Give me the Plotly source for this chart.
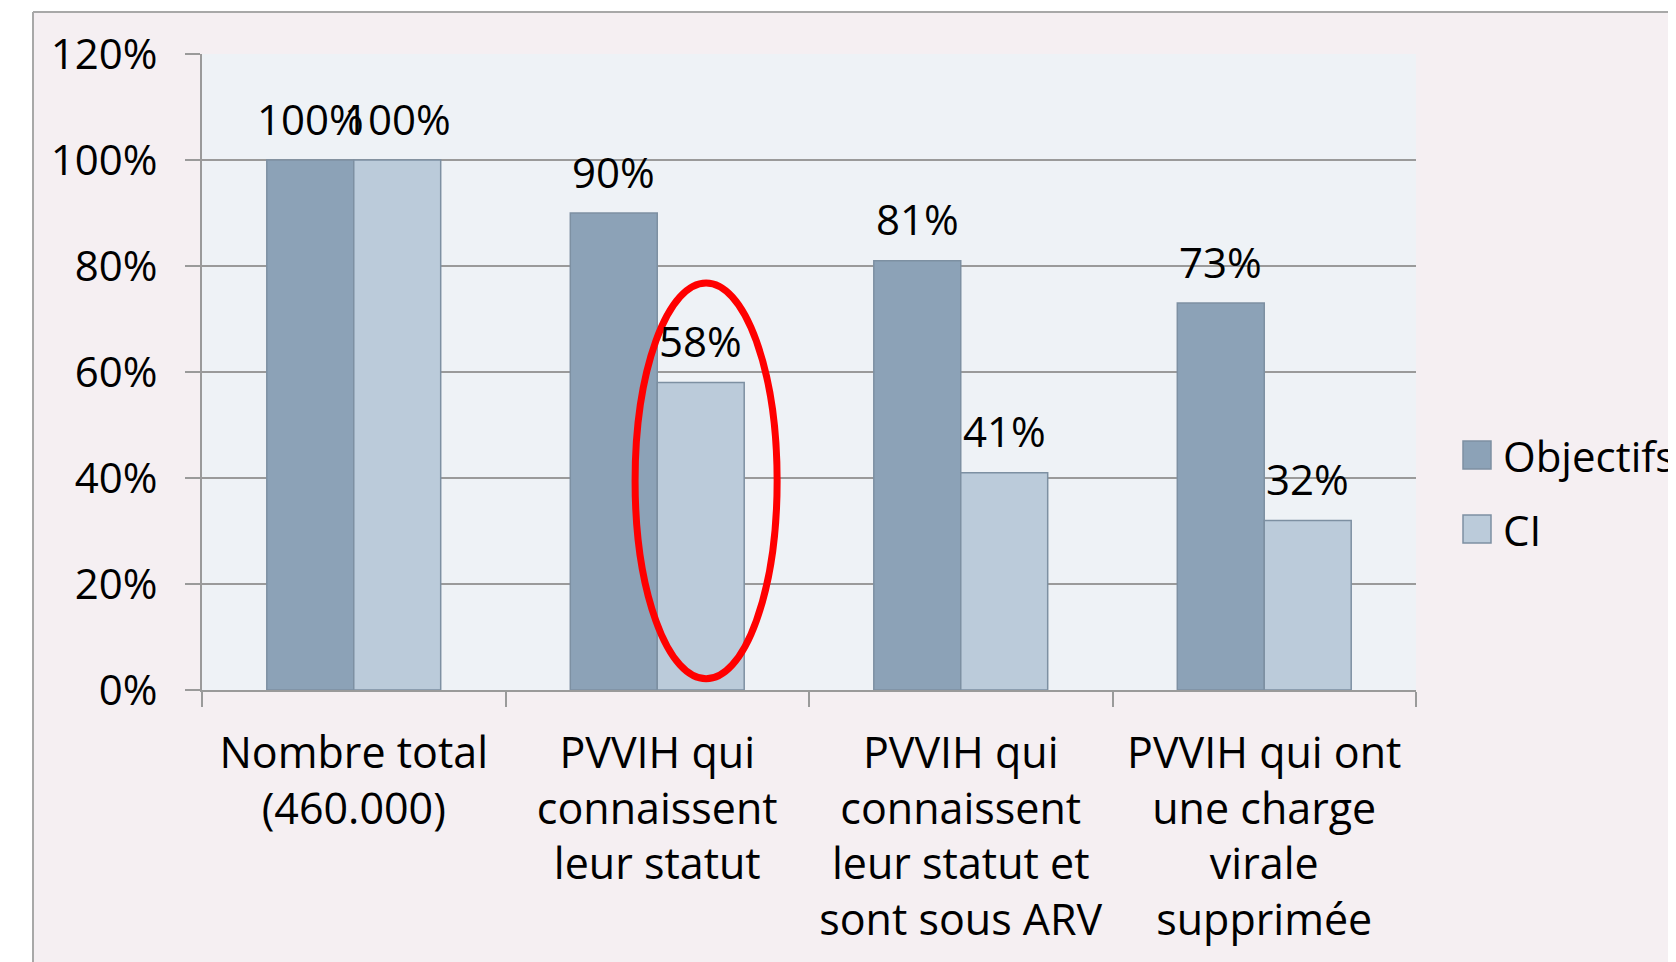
import plotly.graph_objects as go

categories = [
    "Nombre total<br>(460.000)",
    "PVVIH qui<br>connaissent<br>leur statut",
    "PVVIH qui<br>connaissent<br>leur statut et<br>sont sous ARV",
    "PVVIH qui ont<br>une charge<br>virale<br>supprimée",
]
series_names = ["Objectifs", "CI"]
objectifs = [100, 90, 81, 73]
ci = [100, 58, 41, 32]
y_ticks = [0, 20, 40, 60, 80, 100, 120]

W, H = 1676, 962
OFF = 8  # page body margin
ML, MR, MT, MB = 194, 268, 46, 280
PW, PH = W - ML - MR, H - MT - MB
FONT = "Open Sans"
FS = 42
FSX = 43
BARGAP = 0.427
DARK = "#8CA2B7"
LIGHT = "#BBCBDA"
EDGE = "#7D90A2"
GRID = "#9A9A9A"
PINK = "#F5EFF2"
PLOTBG = "#EEF2F6"


def px_x(p):
    return (p - OFF - ML) / PW


def px_y(p):
    return 1 - (p - OFF - MT) / PH


fig = go.Figure()
for name, vals, col in [(series_names[0], objectifs, DARK), (series_names[1], ci, LIGHT)]:
    fig.add_trace(go.Bar(
        x=categories, y=vals, name=name,
        marker=dict(color=col, line=dict(color=EDGE, width=1.5)),
        showlegend=False,
    ))

# data labels
bw = (1 - BARGAP) / 2
annotations = []
for k, vals in enumerate([objectifs, ci]):
    for i, v in enumerate(vals):
        annotations.append(dict(
            x=i + (k - 0.5) * bw, y=v, xref="x", yref="y",
            text=f"{v}%", showarrow=False, yanchor="middle", yshift=42,
            font=dict(family=FONT, size=FS, color="black"),
        ))

# manual legend
leg_items = [(series_names[0], DARK, 455), (series_names[1], LIGHT, 529)]
shapes = []
for name, col, cy in leg_items:
    shapes.append(dict(type="rect", xref="paper", yref="paper",
                       x0=px_x(1463), x1=px_x(1491), y0=px_y(cy - 14), y1=px_y(cy + 14),
                       fillcolor=col, line=dict(color=EDGE, width=1.5)))
    annotations.append(dict(x=px_x(1501), y=px_y(cy), xref="paper", yref="paper",
                            text=name, showarrow=False, xanchor="left", yanchor="middle",
                            font=dict(family=FONT, size=FS, color="black")))

# outer frame: white strips + grey border lines
shapes += [
    dict(type="rect", xref="paper", yref="paper", x0=px_x(0), x1=px_x(33),
         y0=px_y(H + 20), y1=px_y(0), fillcolor="white", line=dict(width=0), layer="above"),
    dict(type="rect", xref="paper", yref="paper", x0=px_x(0), x1=px_x(W + 20),
         y0=px_y(12), y1=px_y(0), fillcolor="white", line=dict(width=0), layer="above"),
    dict(type="line", xref="paper", yref="paper", x0=px_x(33), x1=px_x(33),
         y0=px_y(12), y1=px_y(H + 20), line=dict(color="#A8A8A8", width=2)),
    dict(type="line", xref="paper", yref="paper", x0=px_x(33), x1=px_x(W + 20),
         y0=px_y(12), y1=px_y(12), line=dict(color="#A8A8A8", width=2)),
]

# red ellipse highlighting CI for the second category
shapes.append(dict(type="circle", xref="x", yref="y",
                   x0=0.927, x1=1.395, y0=2.1, y1=76.8,
                   line=dict(color="#FF0000", width=7), layer="above"))

fig.update_layout(
    width=W, height=H,
    margin=dict(l=ML, r=MR, t=MT, b=MB, pad=0),
    paper_bgcolor=PINK, plot_bgcolor=PLOTBG,
    barmode="group", bargap=BARGAP, bargroupgap=0,
    font=dict(family=FONT, size=FS, color="black"),
    showlegend=False,
    annotations=annotations, shapes=shapes,
)
fig.update_yaxes(
    range=[0, 120], tickvals=y_ticks, ticktext=[f"{t}%" for t in y_ticks],
    showgrid=True, gridcolor=GRID, gridwidth=2,
    showline=True, linecolor=GRID, linewidth=2,
    ticks="outside", ticklen=15, tickcolor=GRID, tickwidth=2,
    ticklabelstandoff=19, zeroline=False,
    tickfont=dict(family=FONT, size=FS, color="black"),
)
fig.update_xaxes(
    showline=True, linecolor=GRID, linewidth=2,
    ticks="outside", tickson="boundaries", ticklen=15, tickcolor=GRID, tickwidth=2,
    showgrid=False, ticklabelstandoff=24,
    tickfont=dict(family=FONT, size=FSX, color="black"),
)

fig.write_html("out.html")
